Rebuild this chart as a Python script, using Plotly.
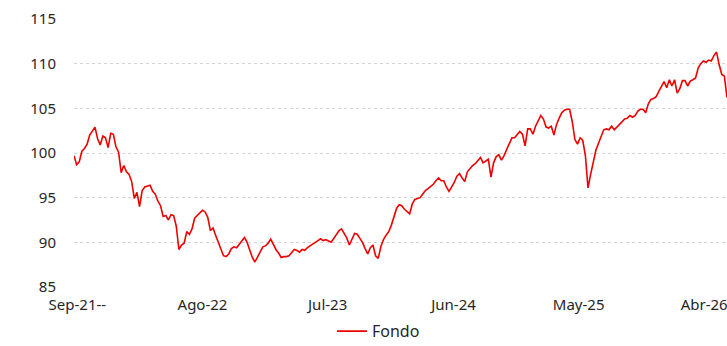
import pandas as pd
import plotly.graph_objects as go

# Weekly fund index values (base 100 at launch)
start_date = "2021-08-23"
fondo = [
    99.7, 98.7, 99.0, 100.2, 100.5, 101.0, 102.0, 102.4, 102.9, 101.6,
    100.9, 101.9, 101.7, 100.6, 102.2, 102.1, 100.7, 100.1, 97.8, 98.6,
    97.9, 97.6, 96.8, 94.9, 95.6, 94.0, 95.8, 96.2, 96.3, 96.4,
    95.7, 95.4, 94.6, 94.1, 92.9, 93.0, 92.5, 93.1, 93.0, 91.8,
    89.2, 89.7, 89.9, 91.2, 90.9, 91.5, 92.7, 93.0, 93.3, 93.6,
    93.4, 92.8, 91.3, 91.6, 90.8, 90.0, 89.1, 88.5, 88.4, 88.7,
    89.3, 89.5, 89.4, 89.8, 90.2, 90.55, 90.0, 89.0, 88.3, 87.8,
    88.4, 89.0, 89.5, 89.6, 89.9, 90.35, 89.7, 89.2, 88.8, 88.3,
    88.4, 88.4, 88.5, 88.8, 89.2, 89.1, 88.9, 89.2, 89.1, 89.4,
    89.6, 89.7, 89.9, 90.2, 90.4, 90.2, 90.3, 90.1, 90.0, 90.4,
    90.9, 91.3, 91.5, 91.0, 90.5, 89.7, 90.4, 91.0, 90.9, 90.5,
    90.0, 89.3, 88.7, 89.4, 89.7, 88.5, 88.2, 89.5, 90.3, 90.8,
    91.2, 91.9, 92.8, 93.8, 94.2, 94.1, 93.7, 93.4, 93.2, 94.3,
    94.8, 94.9, 95.0, 95.4, 95.8, 96.0, 96.2, 96.5, 96.9, 97.2,
    96.9, 96.9, 96.2, 95.7, 96.2, 96.7, 97.4, 97.7, 97.2, 96.8,
    97.9, 98.3, 98.6, 98.8, 99.2, 99.5, 98.9, 99.1, 99.3, 97.3,
    98.9, 99.6, 99.8, 99.2, 99.7, 100.4, 101.0, 101.7, 101.7, 102.1,
    102.4, 102.1, 100.8, 102.7, 102.7, 102.1, 103.0, 103.6, 104.2, 103.8,
    102.9, 102.8, 103.0, 102.0, 103.2, 103.9, 104.5, 104.8, 104.9, 104.9,
    103.5, 101.5, 101.0, 101.7, 101.4, 99.7, 96.1, 97.6, 99.1, 100.3,
    101.1, 101.8, 102.6, 102.7, 102.6, 103.0, 102.6, 102.9, 103.2, 103.5,
    103.8, 103.9, 104.2, 104.0, 104.2, 104.7, 104.9, 104.9, 104.5, 105.5,
    106.0, 106.1, 106.3, 106.9, 107.4, 108.0, 107.3, 108.2, 107.5, 108.2,
    106.7, 107.2, 108.1, 108.1, 107.5, 108.05, 108.2, 108.4, 109.5, 110.0,
    110.3, 110.15, 110.4, 110.3, 110.9, 111.3, 109.9, 108.8, 108.6, 106.2,
]
dates = pd.date_range(start_date, periods=len(fondo), freq="7D")

# Axis labels
tick_dates = ["2021-09-01", "2022-08-01", "2023-07-01", "2024-06-01", "2025-05-01", "2026-04-01"]
tick_labels = ["Sep-21--", "Ago-22", "Jul-23", "Jun-24", "May-25", "Abr-26"]
y_ticks = [85, 90, 95, 100, 105, 110, 115]

font_family = "Noto Sans, Open Sans, sans-serif"
text_color = "#262626"

fig = go.Figure()
fig.add_trace(go.Scatter(
    x=dates, y=fondo, mode="lines", name="Fondo",
    line=dict(color="#ee0000", width=1.6),
))

fig.update_layout(
    width=727, height=346,
    margin=dict(l=74, r=0, t=19, b=59, autoexpand=False),
    paper_bgcolor="white", plot_bgcolor="white",
    font=dict(family=font_family, size=15, color=text_color),
    showlegend=True,
    legend=dict(
        orientation="h", x=0.395, xanchor="left", y=-0.165, yanchor="middle",
        font=dict(size=16, color=text_color), bgcolor="rgba(0,0,0,0)",
    ),
)
fig.update_xaxes(
    range=[dates[0], dates[-1]],
    tickmode="array", tickvals=tick_dates, ticktext=tick_labels,
    showgrid=False, showline=False, zeroline=False,
    ticks="outside", ticklen=4, tickcolor="rgba(0,0,0,0)",
    ticklabeloverflow="allow",
    tickfont=dict(size=15, color=text_color),
)
fig.update_yaxes(
    range=[85, 115], tickmode="array", tickvals=y_ticks,
    showgrid=True, gridcolor="#d4d4d4", griddash="dot", gridwidth=1,
    showline=False, zeroline=False,
    ticks="outside", ticklen=14, tickcolor="rgba(0,0,0,0)",
    tickfont=dict(size=15, color=text_color),
)

fig.write_html("out.html")
